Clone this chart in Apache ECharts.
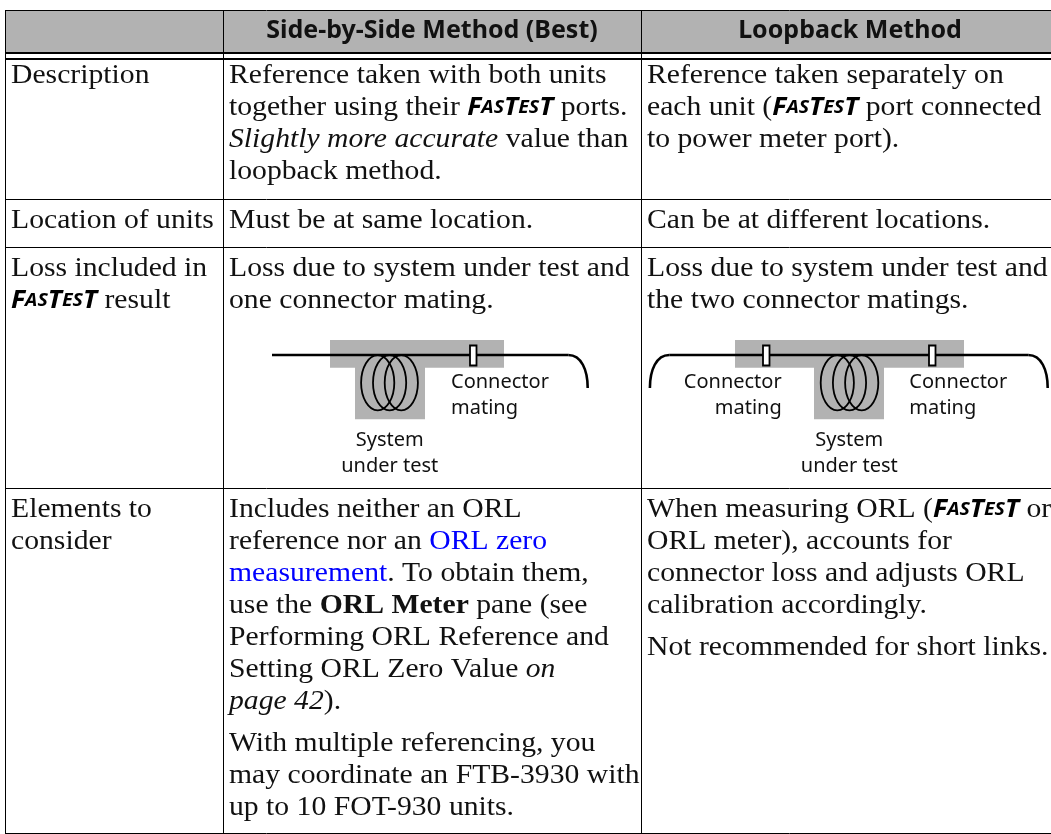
<!DOCTYPE html>
<html><head><meta charset="utf-8">
<style>html,body{margin:0;padding:0;background:#fff}#c{width:1051px;height:834px}</style>
<script src="https://cdn.jsdelivr.net/npm/echarts@6/dist/echarts.min.js"></script>
</head><body><div id="c"></div>
<script>
const FT='{fb|F}{fs|AS}{fb|T}{fs|ES}{fb|T}';
const headers=['Side-by-Side Method (Best)','Loopback Method'];
const rowLabels=[[['Description']],[['Location of units']],[['Loss included in',FT+' result']],[['Elements to','consider']]];
const sideText=[
 [['Reference taken with both units','together using their '+FT+' ports.','{i|Slightly more accurate} value than','loopback method.']],
 [['Must be at same location.']],
 [['Loss due to system under test and','one connector mating.']],
 [['Includes neither an ORL','reference nor an {l|ORL zero}','{l|measurement}. To obtain them,','use the {b|ORL Meter} pane (see','Performing ORL Reference and','Setting ORL Zero Value {i|on}','{i|page 42}).'],
  ['With multiple referencing, you','may coordinate an FTB-3930 with','up to 10 FOT-930 units.']]];
const loopText=[
 [['Reference taken separately on','each unit ('+FT+' port connected','to power meter port).']],
 [['Can be at different locations.']],
 [['Loss due to system under test and','the two connector matings.']],
 [['When measuring ORL ('+FT+' or','ORL meter), accounts for','connector loss and adjusts ORL','calibration accordingly.'],
  ['Not recommended for short links.']]];
const connectorLabel=['Connector','mating'];
const systemLabel=['System','under test'];

// layout
const BODY='"Liberation Serif"',SANS='"Noto Sans"',INK='#111',GREY='#b2b2b2';
const BS=28,SX=1.06,PITCH=32,PARA=42;
const colX=[5.5,223.5,641.5],textX=[11,229,647];
const rowFirst=[83,228,276,517];
const hLines=[199.5,247.5,488.5,833.5];
const g=[];
const line=(x1,y1,x2,y2,w,c)=>g.push({type:'line',shape:{x1,y1,x2,y2},style:{stroke:c||'#000',lineWidth:w,lineCap:'butt'}});
const rect=(x,y,w,h,fill,stroke,lw)=>g.push({type:'rect',shape:{x,y,width:w,height:h},style:{fill,stroke:stroke||null,lineWidth:lw||0}});
const ftStyle={fontFamily:SANS,fontWeight:'bold',fontStyle:'italic',fill:'#000'};
const rich={
 fb:{...ftStyle,fontSize:25},
 fs:{...ftStyle,fontSize:18.5},
 i:{fontFamily:BODY,fontStyle:'italic',fontSize:BS,fill:INK},
 b:{fontFamily:BODY,fontWeight:'bold',fontSize:BS,fill:INK},
 l:{fontFamily:BODY,fontSize:BS,fill:'#0000ff'}};
function body(x,base,s){g.push({type:'text',x,y:base+7,scaleX:SX,style:{text:s,rich,fontFamily:BODY,fontSize:BS,fill:INK,verticalAlign:'bottom',align:'left'}});}
function sans(x,base,s,align,size,weight){g.push({type:'text',x,y:base+6,style:{text:s,fontFamily:SANS,fontSize:size,fontWeight:weight||'normal',fill:'#111',align,verticalAlign:'bottom'}});}
function column(x,rows){rows.forEach((paras,r)=>{let b=rowFirst[r];paras.forEach((lines,p)=>{if(p)b+=PARA-PITCH;lines.forEach(t=>{body(x,b,t);b+=PITCH;});});});}

rect(5,11,1046,41,GREY);
[10.5,...hLines].forEach(y=>line(5,y,1051,y,1));
rect(5,52,1046,2,'#000');rect(5,58,1046,2,'#000');
colX.forEach(x=>line(x,10,x,834,1));

sans(432,37,headers[0],'center',25,'bold');
sans(850,37,headers[1],'center',25,'bold');
column(textX[0],rowLabels);column(textX[1],sideText);column(textX[2],loopText);

function coil(cs){cs.forEach(cx=>g.push({type:'ellipse',shape:{cx,cy:382.7,rx:16.6,ry:27.6},style:{fill:null,stroke:'#000',lineWidth:1.8}}));}
function conn(x){rect(x,345.5,6.5,20,'#fff','#000',1.8);}
const LW=2.6;
function fibre(x1,x2,left,right){
 line(x1,355,x2,355,LW);
 if(left)g.push({type:'bezierCurve',shape:{x1,y1:355,cpx1:x1-13,cpy1:355,cpx2:x1-19.4,cpy2:370,x2:x1-19.4,y2:388},style:{fill:null,stroke:'#000',lineWidth:LW}});
 if(right)g.push({type:'bezierCurve',shape:{x1:x2,y1:355,cpx1:x2+13,cpy1:355,cpx2:x2+19.4,cpy2:370,x2:x2+19.4,y2:388},style:{fill:null,stroke:'#000',lineWidth:LW}});
}
const DS=20;
// left diagram
rect(330,340,174,27.7,GREY);rect(355,367,70,52.3,GREY);
coil([377.7,389.6,401.3]);fibre(272,568.3,false,true);conn(470);
sans(451,386,connectorLabel[0],'left',DS);sans(451,412.5,connectorLabel[1],'left',DS);
sans(389.7,444,systemLabel[0],'center',DS);sans(389.7,470,systemLabel[1],'center',DS);
// right diagram
rect(735,340,229,27.7,GREY);rect(814,367,70,52.3,GREY);
coil([837.3,849.5,861.7]);fibre(669.3,1028.3,true,true);conn(763);conn(929);
sans(781.7,386,connectorLabel[0],'right',DS);sans(781.7,412.5,connectorLabel[1],'right',DS);
sans(909.3,386,connectorLabel[0],'left',DS);sans(909.3,412.5,connectorLabel[1],'left',DS);
sans(849.3,444,systemLabel[0],'center',DS);sans(849.3,470,systemLabel[1],'center',DS);

echarts.init(document.getElementById('c')).setOption({animation:false,graphic:{elements:g}});
</script></body></html>
